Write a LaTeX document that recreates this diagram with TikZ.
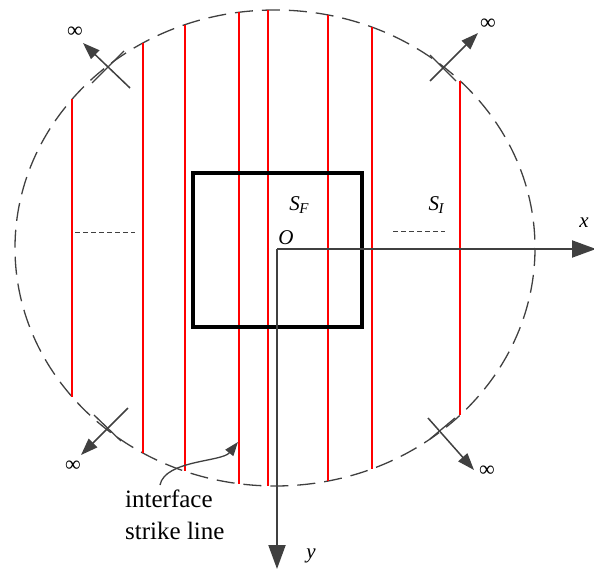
\documentclass[tikz,border=0pt]{standalone}
\usepackage{fontspec}
\setmainfont{Liberation Serif}
\usetikzlibrary{arrows.meta}
\definecolor{axgray}{RGB}{64,64,64}
\begin{document}
\begin{tikzpicture}[x=1pt,y=-1pt,
  axisline/.style={draw=axgray,line width=2pt,-{Triangle[length=24pt,width=17pt]}},
  strikeln/.style={draw=red,line width=1.8pt},
  infarrow/.style={draw=axgray,line width=1.5pt,-{Triangle[length=17pt,width=12pt]}},
  tickln/.style={draw=axgray,line width=1.3pt},
  shortdash/.style={draw=axgray,line width=0.9pt,dash pattern=on 5pt off 3pt},
  mlbl/.style={font=\fontsize{21}{25}\selectfont\itshape,inner sep=0pt},
  infl/.style={font=\fontsize{22}{26}\selectfont,inner sep=0pt},
  txtlbl/.style={font=\fontsize{25}{32}\selectfont,inner sep=0pt,align=left}]
\useasboundingbox (0,0) rectangle (594,572);

% dashed boundary
\draw[axgray,line width=1.3pt,dash pattern=on 18pt off 9pt] (275,248) ellipse [x radius=260, y radius=238];

% strike lines
\foreach \xx/\ya/\yb in {72/99/397,143/43/453,185/25/471,239/12/484,268/10/486,328/15/481,372/27/469,460/81/415}
  \draw[strikeln] (\xx,\ya) -- (\xx,\yb);

% fracture region
\draw[black,line width=3.5pt] (193,173) rectangle (362,327);

% short dashed lines
\draw[shortdash] (75,232) -- (135,232);
\draw[shortdash] (393,231) -- (445,231);

% axes
\coordinate (O) at (277,249);
\coordinate (xe) at (596,249);
\coordinate (ye) at (277,569);
\draw[axisline] (O) -- (xe);
\draw[axisline] (O) -- (ye);
\node[mlbl] (xl) at (584,223) {x};
\node[mlbl] (yl) at (311,556) {y};
\node[mlbl] (ol) at (286,238) {O};
\node[mlbl] (sf) at (299,205) {S\kern-0.5pt\raisebox{-0.35ex}{\fontsize{15}{17}\selectfont F}};
\node[mlbl] (si) at (436,205) {S\kern-0.5pt\raisebox{-0.35ex}{\fontsize{15}{17}\selectfont I}};

% infinity arrows
\coordinate (tlA) at (130,88);  \coordinate (tlB) at (83,43);
\coordinate (tlC) at (92,83);   \coordinate (tlD) at (124,51);
\coordinate (trA) at (430,81);  \coordinate (trB) at (478,33);
\coordinate (trC) at (430,55);  \coordinate (trD) at (456,81);
\coordinate (blA) at (128,408); \coordinate (blB) at (81,455);
\coordinate (blC) at (94,415);  \coordinate (blD) at (121,441);
\coordinate (brA) at (428,418); \coordinate (brB) at (474,470);
\coordinate (brC) at (430,439); \coordinate (brD) at (455,418);
\draw[tickln] (tlC) -- (tlD);
\draw[tickln] (trC) -- (trD);
\draw[tickln] (blC) -- (blD);
\draw[tickln] (brC) -- (brD);
\draw[infarrow] (tlA) -- (tlB);
\draw[infarrow] (trA) -- (trB);
\draw[infarrow] (blA) -- (blB);
\draw[infarrow] (brA) -- (brB);
\node[infl] (itl) at (75,32) {∞};
\node[infl] (itr) at (488,24) {∞};
\node[infl] (ibl) at (73,466) {∞};
\node[infl] (ibr) at (487,471) {∞};

% interface strike line label
\node[txtlbl,anchor=north west] (itf) at (125,490) {interface\\strike line};
\coordinate (cs) at (160,485);
\coordinate (ct) at (238,442);
\draw[draw=axgray,line width=1.3pt,-{Triangle[length=14pt,width=10pt]}] (cs) .. controls (165,460) and (222,462) .. (ct);
\end{tikzpicture}
\end{document}
